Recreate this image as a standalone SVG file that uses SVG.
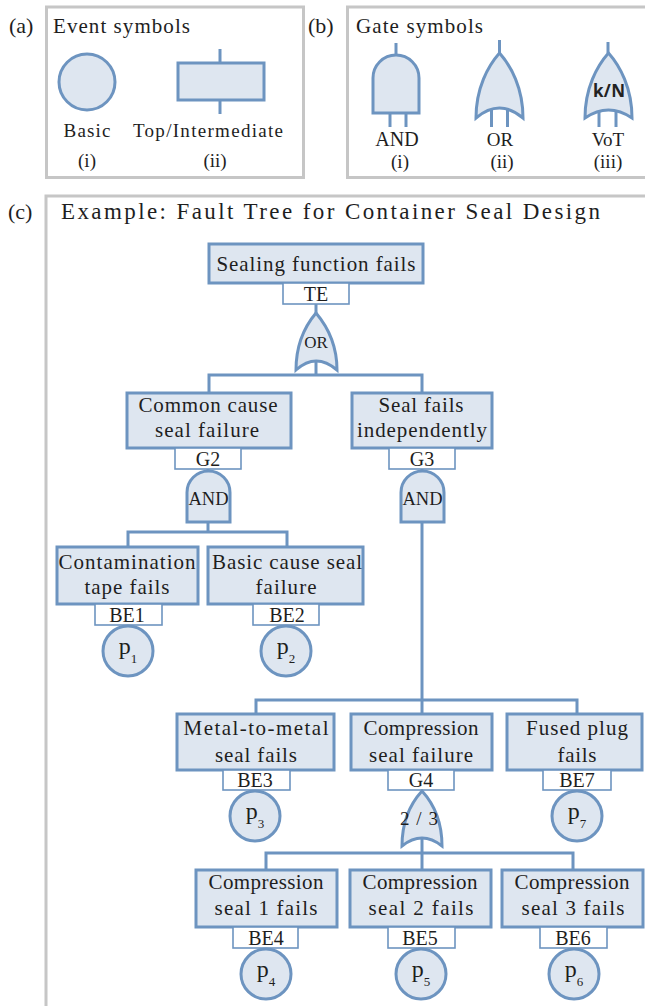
<svg xmlns="http://www.w3.org/2000/svg" width="645" height="1006" viewBox="0 0 645 1006">
  <style>
    .panel { fill: none; stroke: #c6c6c6; stroke-width: 3; }
    .shape { fill: #dee6f0; stroke: #6d94c0; stroke-width: 3; }
    .tag { fill: #ffffff; stroke: #6d94c0; stroke-width: 1.6; }
    .wire { fill: none; stroke: #6d94c0; stroke-width: 3; }
    .lbl, .t, .id, .g, .sym, .pv { font-family: 'Liberation Serif', 'Times New Roman', serif; fill: #1e1e1e; }
    .lbl { font-size: 21px; }
    .t { font-size: 21px; text-anchor: middle; }
    .id { font-size: 20px; text-anchor: middle; }
    .g { font-size: 18.5px; text-anchor: middle; }
    .sym { font-size: 19px; text-anchor: middle; }
    .pv { font-size: 24px; text-anchor: middle; }
    .sub { font-size: 13px; }
    .kn { font-family: 'Open Sans', 'DejaVu Sans', sans-serif; font-weight: bold; font-size: 17px; text-anchor: middle; fill: #222; }
  </style>

  <!-- (a) event symbols -->
  <g id="panel-a">
    <text class="lbl" x="9" y="33" style="font-size:22px">(a)</text>
    <rect class="panel" x="46.5" y="7" width="257" height="170.5"/>
    <text class="lbl" x="53" y="33" textLength="137">Event symbols</text>
    <circle class="shape" cx="87" cy="82" r="28"/>
    <line class="wire" x1="220" y1="49" x2="220" y2="63"/>
    <line class="wire" x1="220" y1="100" x2="220" y2="114"/>
    <rect class="shape" x="178" y="63" width="86" height="37"/>
    <text class="sym" x="87" y="137" textLength="47">Basic</text>
    <text class="sym" x="87" y="167">(i)</text>
    <text class="sym" x="208" y="137" textLength="150">Top/Intermediate</text>
    <text class="sym" x="215" y="167">(ii)</text>
  </g>

  <!-- (b) gate symbols -->
  <g id="panel-b">
    <text class="lbl" x="308" y="33" style="font-size:22px">(b)</text>
    <rect class="panel" x="347.5" y="7" width="300" height="170.5"/>
    <text class="lbl" x="356" y="33" textLength="127">Gate symbols</text>
    <!-- AND -->
    <line class="wire" x1="396" y1="43" x2="396" y2="55"/>
    <line class="wire" x1="390" y1="113" x2="390" y2="127"/>
    <line class="wire" x1="406" y1="113" x2="406" y2="127"/>
    <path class="shape" d="M373,113 V78 A23,23 0 0 1 419,78 V113 Z"/>
    <!-- OR -->
    <line class="wire" x1="499.5" y1="40" x2="499.5" y2="53"/>
    <line class="wire" x1="491.5" y1="107" x2="491.5" y2="127"/>
    <line class="wire" x1="507.5" y1="107" x2="507.5" y2="127"/>
    <path class="shape" d="M476,118 C476,88 488,66 499.5,53 C511,66 523,88 523,118 Q499.5,98 476,118 Z"/>
    <!-- voting gate -->
    <line class="wire" x1="608" y1="42" x2="608" y2="53"/>
    <line class="wire" x1="599" y1="108" x2="599" y2="127"/>
    <line class="wire" x1="616" y1="108" x2="616" y2="127"/>
    <path class="shape" d="M585,118 C585,88 597,66 608.5,53 C620,66 632,88 632,118 Q608.5,102 585,118 Z"/>
    <text class="kn" x="609" y="97" textLength="32">k/N</text>
    <text class="sym" x="397" y="146" style="font-size:20px">AND</text>
    <text class="sym" x="400" y="168">(i)</text>
    <text class="sym" x="500" y="146">OR</text>
    <text class="sym" x="502" y="168">(ii)</text>
    <text class="sym" x="608" y="146">VoT</text>
    <text class="sym" x="608" y="168">(iii)</text>
  </g>

  <!-- (c) fault tree frame and title -->
  <g id="panel-c">
    <text class="lbl" x="8" y="219" style="font-size:22px">(c)</text>
    <path class="panel" d="M46,1010 V196 H650"/>
    <text class="lbl" x="61" y="219" style="font-size:23px" textLength="539">Example: Fault Tree  for Container Seal Design</text>
  </g>

  <!-- connectors -->
  <g id="connectors">
    <line class="wire" x1="316" y1="304" x2="316" y2="314"/>
    <polyline class="wire" points="316,360 316,375"/>
    <polyline class="wire" points="209,393 209,375 422,375 422,393"/>
    <line class="wire" x1="208" y1="469" x2="208" y2="472"/>
    <line class="wire" x1="422" y1="469" x2="422" y2="472"/>
    <line class="wire" x1="208" y1="522" x2="208" y2="532"/>
    <polyline class="wire" points="128,547 128,532 287,532 287,547"/>
    <line class="wire" x1="422" y1="522" x2="422" y2="714"/>
    <polyline class="wire" points="256,714 256,700 577,700 577,714"/>
    <line class="wire" x1="422" y1="836" x2="422" y2="870"/>
    <polyline class="wire" points="266,870 266,853 573,853 573,870"/>
  </g>

  <g id="TE">
    <rect class="shape" x="209" y="244" width="214" height="39"/>
    <text class="t" x="316" y="271" textLength="199">Sealing function fails</text>
    <rect class="tag" x="283" y="283" width="66" height="21"/>
    <text class="id" x="316" y="301">TE</text>
    <path class="shape" d="M296,370 C296,344 305,326 316,313 C327,326 337,344 337,370 Q316,352 296,370 Z"/>
    <text class="g" x="316" y="348" style="font-size:17px">OR</text>
  </g>

  <g id="G2">
    <rect class="shape" x="127" y="393" width="164" height="55"/>
    <text class="t" x="208" y="412" textLength="139">Common cause</text>
    <text class="t" x="207" y="437" textLength="104">seal failure</text>
    <rect class="tag" x="175" y="448" width="66" height="21"/>
    <text class="id" x="208" y="466">G2</text>
    <path class="shape" d="M187,522 V492.5 A21.5,21.5 0 0 1 230,492.5 V522 Z"/>
    <text class="g" x="208.5" y="505">AND</text>
  </g>

  <g id="G3">
    <rect class="shape" x="352" y="393" width="140" height="55"/>
    <text class="t" x="421" y="412" textLength="85">Seal fails</text>
    <text class="t" x="422" y="437" textLength="130">independently</text>
    <rect class="tag" x="389" y="448" width="66" height="21"/>
    <text class="id" x="422" y="466">G3</text>
    <path class="shape" d="M401,522 V492.5 A21.5,21.5 0 0 1 444,492.5 V522 Z"/>
    <text class="g" x="422.5" y="505">AND</text>
  </g>

  <g id="BE1">
    <rect class="shape" x="57" y="547" width="141" height="57"/>
    <text class="t" x="127" y="569" textLength="137">Contamination</text>
    <text class="t" x="127" y="594" textLength="85">tape fails</text>
    <rect class="tag" x="95" y="604" width="67" height="21"/>
    <text class="id" x="127" y="622">BE1</text>
    <circle class="shape" cx="128" cy="651" r="25"/>
    <text class="pv" x="128" y="654">p<tspan class="sub" dy="9">1</tspan></text>
  </g>

  <g id="BE2">
    <rect class="shape" x="208" y="547" width="155" height="57"/>
    <text class="t" x="287" y="569" textLength="150">Basic cause seal</text>
    <text class="t" x="286" y="594" textLength="61">failure</text>
    <rect class="tag" x="253" y="604" width="66" height="21"/>
    <text class="id" x="287" y="622">BE2</text>
    <circle class="shape" cx="286" cy="651" r="25"/>
    <text class="pv" x="286" y="654">p<tspan class="sub" dy="9">2</tspan></text>
  </g>

  <g id="BE3">
    <rect class="shape" x="177" y="714" width="157" height="56"/>
    <text class="t" x="256" y="735" textLength="145">Metal-to-metal</text>
    <text class="t" x="256" y="762" textLength="82">seal fails</text>
    <rect class="tag" x="223" y="770" width="67" height="20"/>
    <text class="id" x="255" y="787">BE3</text>
    <circle class="shape" cx="255" cy="816" r="25"/>
    <text class="pv" x="255" y="819">p<tspan class="sub" dy="9">3</tspan></text>
  </g>

  <g id="G4">
    <rect class="shape" x="351" y="714" width="141" height="56"/>
    <text class="t" x="421" y="735" textLength="115">Compression</text>
    <text class="t" x="421" y="762" textLength="104">seal failure</text>
    <rect class="tag" x="388" y="770" width="66" height="20"/>
    <text class="id" x="421" y="787">G4</text>
    <path class="shape" d="M402,846 C402,820 411,803 422,791 C433,803 442,820 442,846 Q422,830 402,846 Z"/>
    <text class="g" x="419" y="825" style="font-size:19px" textLength="38">2/3</text>
  </g>

  <g id="BE7">
    <rect class="shape" x="507" y="714" width="135" height="56"/>
    <text class="t" x="577" y="735" textLength="102">Fused plug</text>
    <text class="t" x="577" y="762" textLength="39">fails</text>
    <rect class="tag" x="543" y="770" width="68" height="20"/>
    <text class="id" x="577" y="787">BE7</text>
    <circle class="shape" cx="577" cy="816" r="25"/>
    <text class="pv" x="577" y="819">p<tspan class="sub" dy="9">7</tspan></text>
  </g>

  <g id="BE4">
    <rect class="shape" x="196" y="870" width="141" height="57"/>
    <text class="t" x="266" y="889" textLength="115">Compression</text>
    <text class="t" x="266" y="915" textLength="103">seal 1 fails</text>
    <rect class="tag" x="233" y="927" width="65" height="21"/>
    <text class="id" x="266" y="945">BE4</text>
    <circle class="shape" cx="266" cy="974" r="25"/>
    <text class="pv" x="266" y="977">p<tspan class="sub" dy="9">4</tspan></text>
  </g>

  <g id="BE5">
    <rect class="shape" x="350" y="870" width="141" height="57"/>
    <text class="t" x="420" y="889" textLength="115">Compression</text>
    <text class="t" x="421" y="915" textLength="105">seal 2 fails</text>
    <rect class="tag" x="388" y="927" width="67" height="21"/>
    <text class="id" x="420" y="945">BE5</text>
    <circle class="shape" cx="421" cy="974" r="25"/>
    <text class="pv" x="421" y="977">p<tspan class="sub" dy="9">5</tspan></text>
  </g>

  <g id="BE6">
    <rect class="shape" x="502" y="870" width="141" height="57"/>
    <text class="t" x="572" y="889" textLength="115">Compression</text>
    <text class="t" x="573" y="915" textLength="103">seal 3 fails</text>
    <rect class="tag" x="540" y="927" width="67" height="21"/>
    <text class="id" x="573" y="945">BE6</text>
    <circle class="shape" cx="574" cy="974" r="25"/>
    <text class="pv" x="574" y="977">p<tspan class="sub" dy="9">6</tspan></text>
  </g>
</svg>
